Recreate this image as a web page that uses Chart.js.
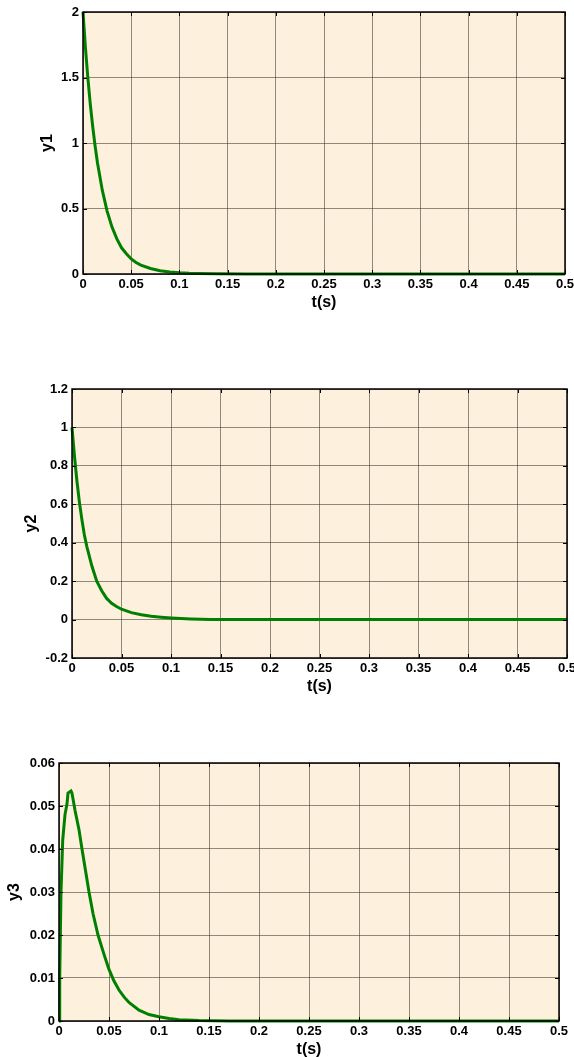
<!DOCTYPE html>
<html>
<head>
<meta charset="utf-8">
<script src="https://cdn.jsdelivr.net/npm/chart.js@4/dist/chart.umd.min.js"></script>
<style>
body { margin: 0; background: #fff; width: 574px; height: 1057px; position: relative; overflow: hidden; }
canvas { position: absolute; left: 0; }
</style>
</head>
<body>
<canvas id="c1" width="574" height="312" style="top:0px"></canvas>
<canvas id="c2" width="574" height="326" style="top:370px"></canvas>
<canvas id="c3" width="574" height="316" style="top:743px"></canvas>
<script>
// y1 response
const t1 = [0, 0.0025, 0.005, 0.0075, 0.01, 0.0125, 0.015, 0.02, 0.025, 0.03, 0.035, 0.04, 0.045, 0.05, 0.055, 0.06, 0.07, 0.08, 0.09, 0.1, 0.11, 0.12, 0.14, 0.17, 0.5]
const y1 = [2.0, 1.73, 1.50, 1.30, 1.13, 0.98, 0.85, 0.64, 0.48, 0.36, 0.27, 0.20, 0.155, 0.115, 0.088, 0.068, 0.042, 0.025, 0.015, 0.009, 0.005, 0.003, 0.001, 0, 0]

// y2 response
const t2 = [0, 0.0025, 0.005, 0.0075, 0.01, 0.0125, 0.015, 0.02, 0.025, 0.03, 0.035, 0.04, 0.045, 0.05, 0.06, 0.07, 0.08, 0.09, 0.1, 0.11, 0.12, 0.14, 0.17, 0.5]
const y2 = [1.0, 0.85, 0.72, 0.61, 0.52, 0.44, 0.38, 0.28, 0.20, 0.15, 0.11, 0.085, 0.068, 0.054, 0.036, 0.025, 0.017, 0.012, 0.008, 0.005, 0.003, 0.001, 0, 0]

// y3 response
const t3 = [0, 0.0007, 0.002, 0.0037, 0.006, 0.008, 0.009, 0.012, 0.013, 0.016, 0.02, 0.023, 0.0265, 0.03, 0.034, 0.039, 0.045, 0.05, 0.055, 0.06, 0.065, 0.07, 0.08, 0.09, 0.1, 0.11, 0.12, 0.14, 0.17, 0.5]
const y3 = [0, 0.01, 0.03, 0.042, 0.048, 0.0505, 0.053, 0.0535, 0.053, 0.049, 0.0445, 0.040, 0.035, 0.030, 0.025, 0.020, 0.0155, 0.012, 0.0093, 0.0072, 0.0056, 0.0043, 0.0025, 0.0015, 0.001, 0.0006, 0.0003, 0.0001, 0, 0]

const xMin = 0, xMax = 0.5, xStep = 0.05

const plotBg = '#fdf0dc'
const gridColor = 'rgba(40,30,20,0.5)'
const green = '#008000'

Chart.defaults.font.family = '"Liberation Sans", Arial, sans-serif'
Chart.defaults.font.weight = 'bold'
Chart.defaults.color = '#000'

const fmt = v => String(+Number(v).toFixed(4))

// peach plot area, black box and small inward ticks
const frame = {
    id: 'frame',
    beforeDraw(chart) {
        const { ctx, chartArea: a } = chart
        ctx.save()
        ctx.fillStyle = plotBg
        ctx.fillRect(a.left, a.top, a.right - a.left, a.bottom - a.top)
        ctx.restore()
    },
    afterDraw(chart) {
        const { ctx, chartArea: a, scales } = chart
        ctx.save()
        ctx.strokeStyle = '#000'
        ctx.lineWidth = 1
        ctx.beginPath()
        scales.x.ticks.forEach(t => {
            const px = Math.round(scales.x.getPixelForValue(t.value)) + 0.5
            ctx.moveTo(px, a.top); ctx.lineTo(px, a.top + 4)
            ctx.moveTo(px, a.bottom); ctx.lineTo(px, a.bottom - 4)
        })
        scales.y.ticks.forEach(t => {
            const py = Math.round(scales.y.getPixelForValue(t.value)) + 0.5
            ctx.moveTo(a.left, py); ctx.lineTo(a.left + 4, py)
            ctx.moveTo(a.right, py); ctx.lineTo(a.right - 4, py)
        })
        ctx.stroke()
        ctx.lineWidth = 1.5
        ctx.strokeRect(Math.round(a.left), Math.round(a.top), Math.round(a.right - a.left), Math.round(a.bottom - a.top))
        ctx.restore()
    }
}

function makeChart(id, t, ys, o) {
    const canvas = document.getElementById(id)
    return new Chart(canvas.getContext('2d'), {
        type: 'line',
        data: {
            datasets: [{
                data: t.map((x, i) => ({ x, y: ys[i] })),
                borderColor: green,
                borderWidth: 3,
                pointRadius: 0,
                tension: 0,
                fill: false,
                clip: 4
            }]
        },
        options: {
            responsive: false,
            animation: false,
            devicePixelRatio: 1,
            layout: { padding: { left: o.padLeft, right: o.padRight, top: o.padTop, bottom: 0 } },
            plugins: { legend: { display: false }, tooltip: { enabled: false } },
            scales: {
                x: {
                    type: 'linear',
                    min: xMin,
                    max: xMax,
                    ticks: { stepSize: xStep, autoSkip: false, maxRotation: 0, padding: 3, font: { size: 13 }, callback: fmt },
                    grid: { color: gridColor, drawTicks: false },
                    border: { display: false },
                    title: { display: true, text: 't(s)', font: { size: 16 }, padding: 0 },
                    afterFit(s) { s.height = 38; s.paddingLeft = 0; s.paddingRight = 0 }
                },
                y: {
                    min: o.yMin,
                    max: o.yMax,
                    ticks: { stepSize: o.yStep, padding: 4, font: { size: 13 }, callback: fmt },
                    grid: { color: gridColor, drawTicks: false },
                    border: { display: false },
                    title: { display: true, text: o.label, font: { size: 16 }, padding: 0 },
                    afterFit(s) { s.width = o.yWidth; s.paddingTop = 0; s.paddingBottom = 0 }
                }
            }
        },
        plugins: [frame]
    })
}

makeChart('c1', t1, y1, { label: 'y1', yMin: 0, yMax: 2, yStep: 0.5, padLeft: 38, yWidth: 45, padRight: 9, padTop: 12 })
makeChart('c2', t2, y2, { label: 'y2', yMin: -0.2, yMax: 1.2, yStep: 0.2, padLeft: 22, yWidth: 50, padRight: 7, padTop: 19 })
makeChart('c3', t3, y3, { label: 'y3', yMin: 0, yMax: 0.06, yStep: 0.01, padLeft: 5, yWidth: 54, padRight: 15, padTop: 20 })
</script>
</body>
</html>
